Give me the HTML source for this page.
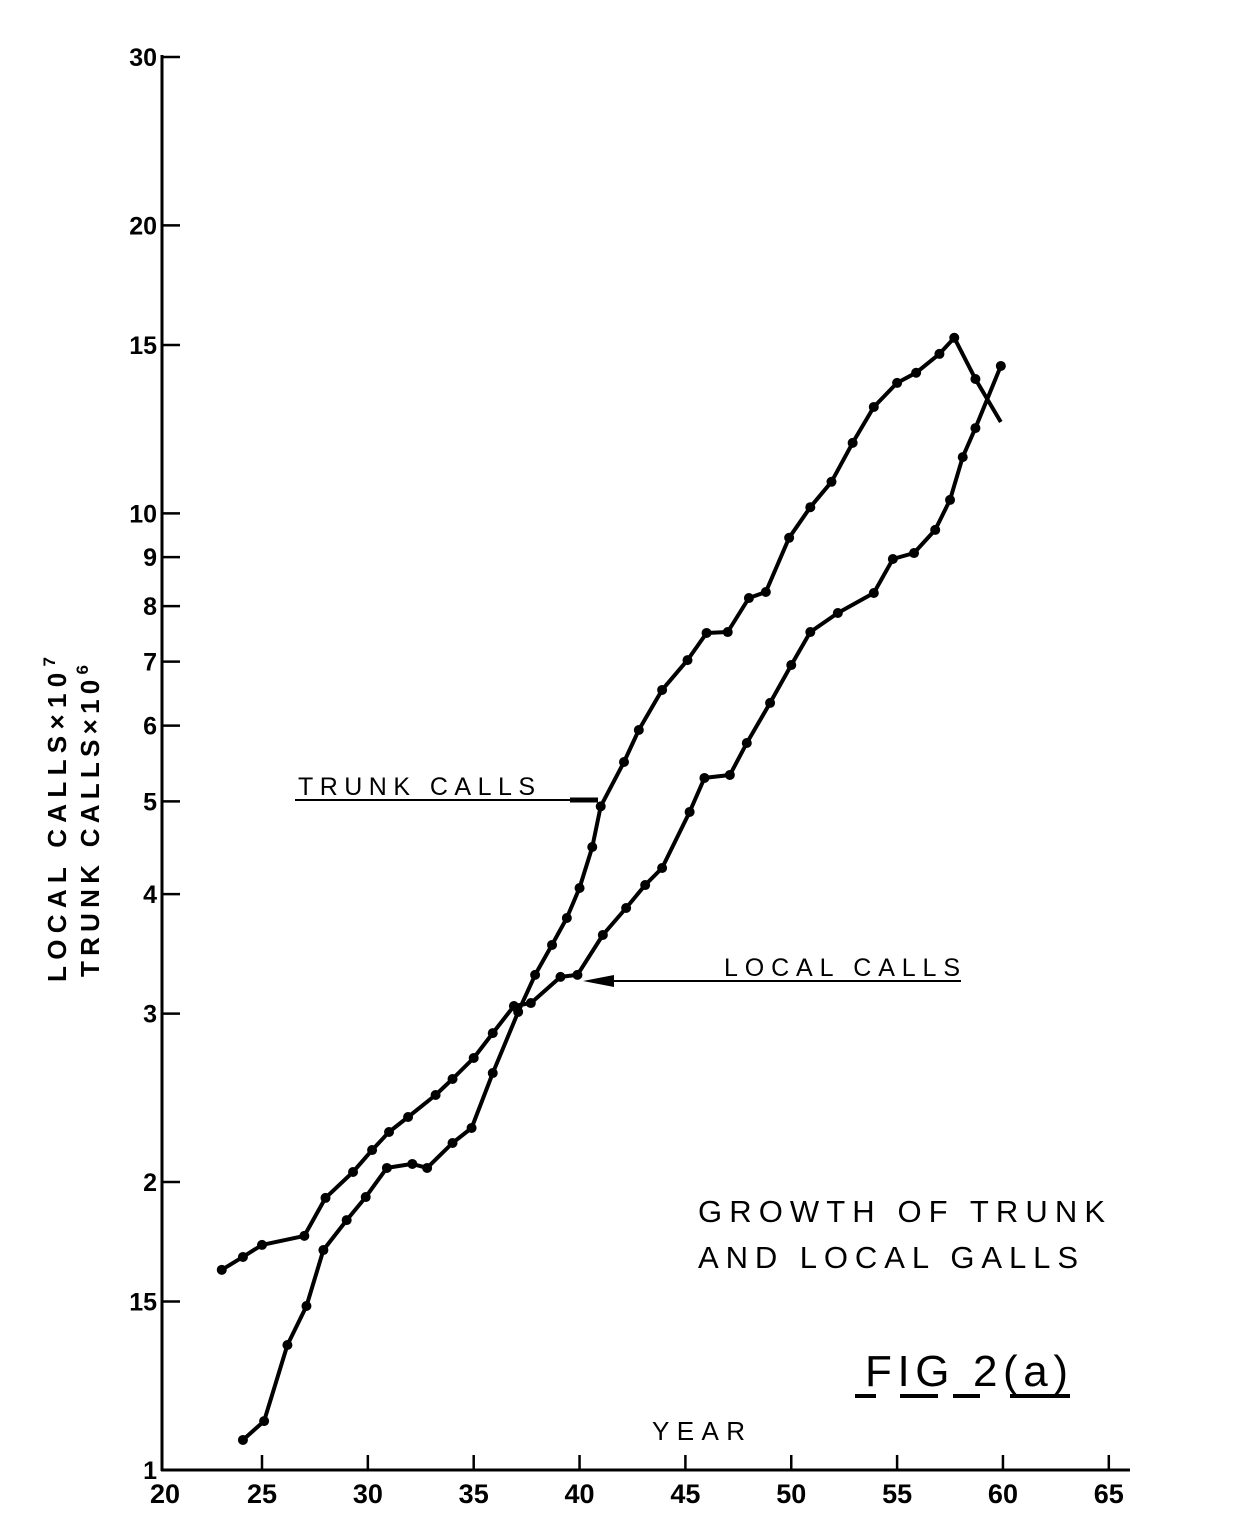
<!DOCTYPE html>
<html><head><meta charset="utf-8"><style>
html,body{margin:0;padding:0;background:#fff;}
svg{display:block;}
text{font-family:"Liberation Sans",sans-serif;fill:#000;}
</style></head><body>
<svg id="chart" width="1248" height="1530" viewBox="0 0 1248 1530" xmlns="http://www.w3.org/2000/svg">
<g id="axes"></g>
<g id="series"></g>
<g font-size="26" font-weight="bold">
<text transform="translate(66,982) rotate(-90)" textLength="325" lengthAdjust="spacing">LOCAL CALLS×10<tspan dy="-11" font-size="17">7</tspan></text>
<text transform="translate(99,977) rotate(-90)" textLength="312" lengthAdjust="spacing">TRUNK CALLS×10<tspan dy="-11" font-size="17">6</tspan></text>
</g>
<g>
<text x="298" y="795" font-size="25" textLength="237" lengthAdjust="spacing">TRUNK CALLS</text>
<line x1="295" y1="800" x2="598" y2="800" stroke="#000" stroke-width="2"/>
<line x1="570" y1="800" x2="598" y2="800" stroke="#000" stroke-width="5"/>
</g>
<g>
<text x="724" y="976" font-size="25" textLength="236" lengthAdjust="spacing">LOCAL CALLS</text>
<line x1="600" y1="981" x2="961" y2="981" stroke="#000" stroke-width="2"/>
<polygon points="583,981 614,975 614,987" fill="#000"/>
</g>
<g font-size="31">
<text x="698" y="1222" textLength="407" lengthAdjust="spacing">GROWTH OF TRUNK</text>
<text x="698" y="1268" textLength="380" lengthAdjust="spacing">AND LOCAL GALLS</text>
</g>
<g>
<text x="865" y="1386" font-size="44" textLength="203" lengthAdjust="spacing">FIG 2(a)</text>
<g stroke="#000" stroke-width="4">
<line x1="855" y1="1396" x2="876" y2="1396"/><line x1="900" y1="1396" x2="938" y2="1396"/>
<line x1="953" y1="1396" x2="980" y2="1396"/><line x1="1010" y1="1396" x2="1070" y2="1396"/>
</g></g>
<text x="652" y="1440" font-size="26" textLength="93" lengthAdjust="spacing">YEAR</text>
</svg>
<script>
const xTicks=[20,25,30,35,40,45,50,55,60,65];
const yTicks=[1,1.5,2,3,4,5,6,7,8,9,10,15,20,30];
const yTickLabels=["1","15","2","3","4","5","6","7","8","9","10","15","20","30"];
const trunkYears=[24.1,25.1,26.2,27.1,27.9,29.0,29.9,30.9,32.1,32.8,34.0,34.9,35.9,37.1,37.9,38.7,39.4,40.0,40.6,41.0,42.1,42.8,43.9,45.1,46.0,47.0,48.0,48.8,49.9,50.9,51.9,52.9,53.9,55.0,55.9,57.0,57.7,58.7];
const trunkValues=[1.075,1.125,1.351,1.484,1.698,1.825,1.929,2.069,2.089,2.069,2.197,2.278,2.6,3.012,3.293,3.539,3.776,4.059,4.48,4.94,5.497,5.937,6.538,7.025,7.499,7.516,8.157,8.276,9.43,10.15,10.79,11.85,12.92,13.69,14.03,14.68,15.26,13.82];
const trunkEnd=[59.9,12.46];
const localYears=[23.1,24.1,25.0,27.0,28.0,29.3,30.2,31.0,31.9,33.2,34.0,35.0,35.9,36.9,37.7,39.1,39.9,41.1,42.2,43.1,43.9,45.2,45.9,47.1,47.9,49.0,50.0,50.9,52.2,53.9,54.8,55.8,56.8,57.5,58.1,58.7,59.9];
const localValues=[1.619,1.67,1.719,1.757,1.925,2.049,2.16,2.256,2.339,2.466,2.563,2.696,2.862,3.055,3.077,3.277,3.293,3.625,3.868,4.088,4.259,4.874,5.29,5.328,5.754,6.337,6.942,7.516,7.868,8.256,8.96,9.09,9.61,10.33,11.45,12.28,14.26];

const NS="http://www.w3.org/2000/svg";
function X(yr){return 262+(yr-25)*21.17;}
function Y(v){return 1470-Math.log10(v)*956.6;}
function mk(tag,attrs,parent){const e=document.createElementNS(NS,tag);for(const k in attrs)e.setAttribute(k,attrs[k]);parent.appendChild(e);return e;}
const axes=document.getElementById('axes');
const series=document.getElementById('series');
let a=mk('line',{x1:162,y1:55,x2:162,y2:1471,stroke:'#000','stroke-width':3},axes);


a=mk('line',{x1:161,y1:1470,x2:1130,y2:1470,stroke:'#000','stroke-width':3},axes);


xTicks.forEach(t=>{
  const x=X(t);
  if(t>20){const l=mk('line',{x1:x,y1:1470,x2:x,y2:1455,stroke:'#000','stroke-width':2.5},axes);
  
  }
  const tx=mk('text',{x:(t==20?165:x),y:1503,'text-anchor':'middle','font-size':27,'font-weight':'bold'},axes);
  tx.textContent=String(t);
  
  
});
yTicks.forEach((t,i)=>{
  const y=Y(t);
  if(t>1){const l=mk('line',{x1:162,y1:y,x2:180,y2:y,stroke:'#000','stroke-width':2.5},axes);
  
  }
  const tx=mk('text',{x:157,y:y+9,'text-anchor':'end','font-size':25,'font-weight':'bold'},axes);
  tx.textContent=yTickLabels[i];
  
  
});
function drawSeries(years,vals,name,extra){
  const pts=years.map((yr,i)=>X(yr).toFixed(1)+','+Y(vals[i]).toFixed(1));
  if(extra)pts.push(X(extra[0]).toFixed(1)+','+Y(extra[1]).toFixed(1));
  const p=mk('polyline',{points:pts.join(' '),fill:'none',stroke:'#000','stroke-width':4,'stroke-linejoin':'round'},series);
  
  
  years.forEach((yr,i)=>{
    const c=mk('circle',{cx:X(yr),cy:Y(vals[i]),r:5,fill:'#000'},series);
    
    
  });
}
drawSeries(trunkYears,trunkValues,'trunk-calls',trunkEnd);
drawSeries(localYears,localValues,'local-calls',null);
</script>
</body></html>
